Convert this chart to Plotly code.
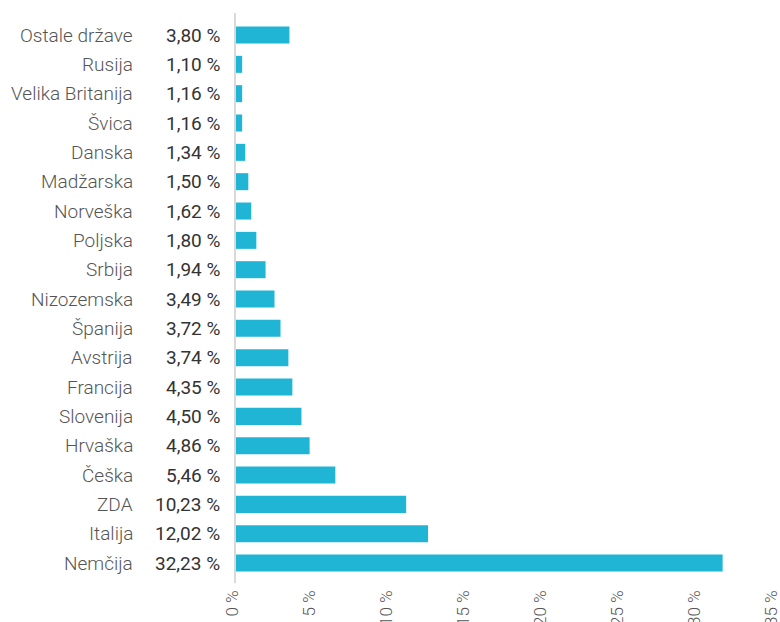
import plotly.graph_objects as go

# Categories from bottom (largest) to top
countries = ["Nemčija", "Italija", "ZDA", "Češka", "Hrvaška", "Slovenija", "Francija",
             "Avstrija", "Španija", "Nizozemska", "Srbija", "Poljska", "Norveška",
             "Madžarska", "Danska", "Švica", "Velika Britanija", "Rusija", "Ostale države"]
# Bar lengths as drawn (percent)
bar_values = [31.6, 12.47, 11.05, 6.45, 4.78, 4.25, 3.66, 3.40, 2.89, 2.50, 1.92, 1.32,
              0.99, 0.80, 0.60, 0.40, 0.40, 0.40, 3.47]
# Value labels as printed
value_labels = ["32,23 %", "12,02 %", "10,23 %", "5,46 %", "4,86 %", "4,50 %", "4,35 %",
                "3,74 %", "3,72 %", "3,49 %", "1,94 %", "1,80 %", "1,62 %", "1,50 %",
                "1,34 %", "1,16 %", "1,16 %", "1,10 %", "3,80 %"]
x_ticks = [0, 5, 10, 15, 20, 25, 30, 35]
x_tick_text = ["0 %", "5 %", "10 %", "15 %", "20 %", "25 %", "30 %", "35 %"]

FONT = "Roboto"
idx = list(range(len(countries)))

fig = go.Figure()
fig.add_trace(go.Bar(
    x=bar_values, y=idx, orientation="h",
    marker=dict(color="#21b5d5", line=dict(width=0)),
    width=0.58, hoverinfo="skip", cliponaxis=False,
))

annotations = []
for i, (c, v) in enumerate(zip(countries, value_labels)):
    annotations.append(dict(x=0, y=i, xref="paper", yref="y", text=c, showarrow=False,
                            xanchor="right", yanchor="middle", xshift=-101,
                            font=dict(family=FONT, size=19, color="#555555", weight=300)))
    annotations.append(dict(x=0, y=i, xref="paper", yref="y", text=v, showarrow=False,
                            xanchor="right", yanchor="middle", xshift=-14,
                            font=dict(family=FONT, size=19, color="#333333")))

fig.update_layout(
    width=780, height=622,
    margin=dict(l=236, r=5, t=13, b=39, autoexpand=False),
    paper_bgcolor="white", plot_bgcolor="white",
    showlegend=False,
    annotations=annotations,
    xaxis=dict(range=[0, 35], tickvals=x_ticks, ticktext=x_tick_text, tickangle=-90,
               showgrid=False, zeroline=False, showline=False, ticks="",
               tickfont=dict(family=FONT, size=17, color="#555555", weight=300),
               ticklabelstandoff=3, ticklabelshift=-4,
               ticklabeloverflow="allow", automargin=False),
    yaxis=dict(range=[-0.68, 18.75], showticklabels=False, showgrid=False, zeroline=False,
               showline=True, linecolor="#d9d9d9", linewidth=2, ticks="", automargin=False),
)

fig.write_html("out.html", config={"displayModeBar": False},
               post_script="document.body.style.margin='0';")
